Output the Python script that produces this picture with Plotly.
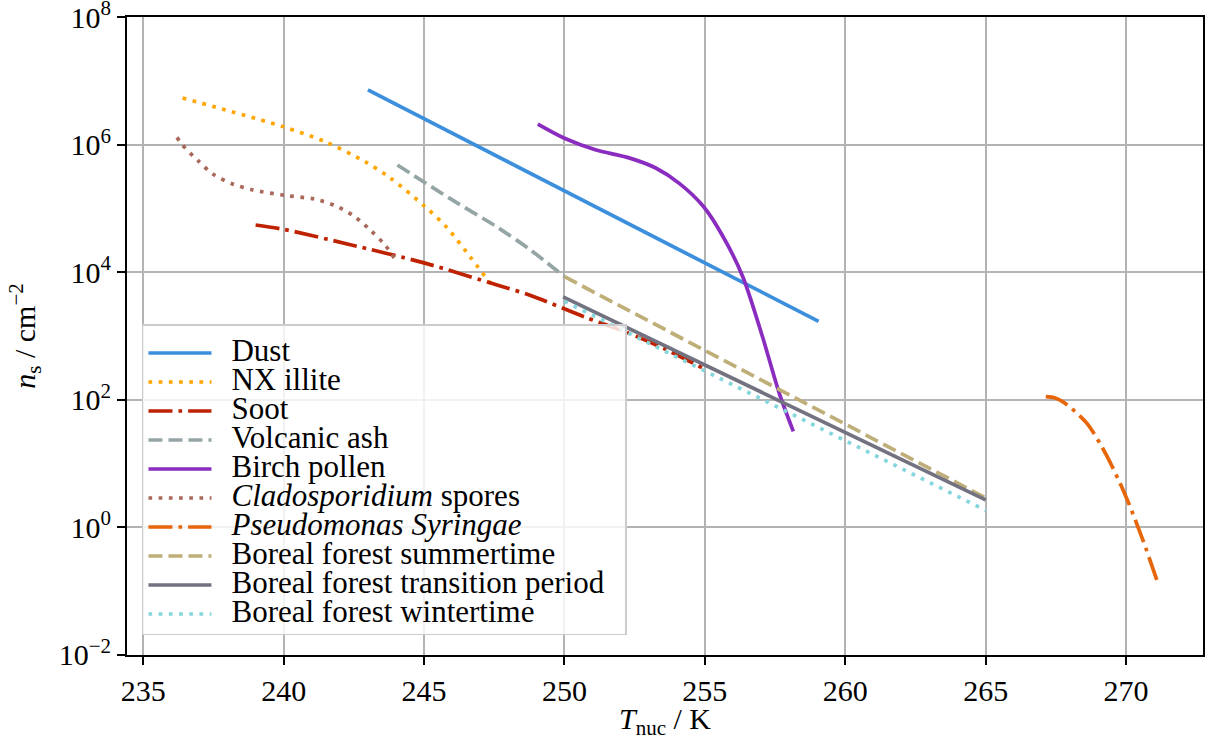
import plotly.graph_objects as go

FONT = "Liberation Serif"

# ---- data (T in K, n_s in cm^-2) ----
dust_T = [243.0, 259.05]
dust_n = [7.2e6, 1.7e3]

illite_T = [236.4, 240.0, 241.5, 242.9, 243.8, 245.0, 245.8, 246.5, 247.45]
illite_n = [5.4e6, 1.9e6, 1.1e6, 5.4e5, 3.0e5, 1.1e5, 5.1e4, 2.1e4, 5.9e3]

soot_T = [239.0, 240.0, 242.3, 245.0, 247.6, 248.75, 250.7, 252.3, 253.5, 254.95]
soot_n = [5.5e4, 4.7e4, 2.75e4, 1.4e4, 6.3e3, 4.4e3, 2.0e3, 1.1e3, 6.5e2, 3.1e2]

ash_T = [244.05, 245.9, 247.6, 248.75, 250.0]
ash_n = [4.8e5, 1.45e5, 5.1e4, 2.3e4, 8.5e3]

birch_T = [249.05, 250.0, 251.1, 252.3, 253.25, 254.1, 254.95, 255.65, 256.35, 257.05, 257.65, 258.15]
birch_n = [2.1e6, 1.26e6, 8.3e5, 6.2e5, 4.3e5, 2.45e5, 1.07e5, 3.6e4, 8.5e3, 9.8e2, 1.26e2, 3.2e1]

clado_T = [236.2, 236.4, 236.95, 237.5, 238.2, 238.9, 240.05, 241.1, 241.85, 242.5, 243.1, 243.6, 244.05]
clado_n = [1.3e6, 9.8e5, 5.6e5, 3.4e5, 2.4e5, 1.95e5, 1.6e5, 1.4e5, 1.1e5, 7.6e4, 4.5e4, 2.7e4, 1.4e4]

pseudo_T = [267.14, 267.45, 267.8, 268.6, 269.3, 270.0, 270.6, 271.1]
pseudo_n = [1.12e2, 1.08e2, 9.0e1, 4.3e1, 1.36e1, 3.0, 0.63, 0.148]

summer_T = [250.0, 265.0]
summer_n = [8.5e3, 2.9]

trans_T = [249.95, 265.0]
trans_n = [4.1e3, 2.7]

winter_T = [250.0, 265.0]
winter_n = [3.5e3, 1.85]

x_ticks = [235, 240, 245, 250, 255, 260, 265, 270]
y_tick_exp = [-2, 0, 2, 4, 6, 8]

# ---- styles ----
LW = 3.7
DOT = "3.7px,6.5px"
DASH = "14px,6px"
DASHDOT = "24px,6px,3.7px,6px"
TXT = 30
LEG_TXT = 31

series = [
    ("Dust", dust_T, dust_n, "#3b8fdc", "solid", "linear"),
    ("NX illite", illite_T, illite_n, "#ffa500", DOT, "spline"),
    ("Soot", soot_T, soot_n, "#bf2200", DASHDOT, "spline"),
    ("Volcanic ash", ash_T, ash_n, "#95a5a6", DASH, "spline"),
    ("Birch pollen", birch_T, birch_n, "#8a2cbf", "solid", "spline"),
    ("<i>Cladosporidium</i> spores", clado_T, clado_n, "#a8685a", DOT, "spline"),
    ("<i>Pseudomonas Syringae</i>", pseudo_T, pseudo_n, "#e8660a", DASHDOT, "spline"),
    ("Boreal forest summertime", summer_T, summer_n, "#bfae78", DASH, "linear"),
    ("Boreal forest transition period", trans_T, trans_n, "#727280", "solid", "linear"),
    ("Boreal forest wintertime", winter_T, winter_n, "#85d6dc", DOT, "linear"),
]

fig = go.Figure()
for name, xs, ys, col, dash, shape in series:
    fig.add_trace(go.Scatter(
        x=xs, y=ys, mode="lines",
        name="\u00a0\u00a0\u00a0<span style='font-size:%dpx'>%s\u00a0\u00a0</span>" % (LEG_TXT, name),
        line=dict(color=col, width=LW, dash=dash, shape=shape, smoothing=0.8),
    ))

axis_common = dict(
    showline=True, linecolor="black", linewidth=2, mirror=True,
    ticks="outside", ticklen=8, tickwidth=1.8, tickcolor="black",
    showgrid=True, gridcolor="#b3b3b3", gridwidth=1.6,
    zeroline=False, ticklabeloverflow="allow", automargin=False,
    tickfont=dict(family=FONT, size=TXT, color="black"),
)

fig.update_xaxes(
    range=[234.42, 272.74],
    tickvals=x_ticks, ticktext=[str(v) for v in x_ticks],
    title=dict(text="<i>T</i><sub>nuc</sub> / K", font=dict(family=FONT, size=TXT, color="black"), standoff=10),
    **axis_common,
)
fig.update_yaxes(
    type="log", range=[-2.001, 8.001],
    tickvals=[10.0 ** e for e in y_tick_exp],
    ticktext=["10<sup>" + (str(e) if e >= 0 else "\u2212" + str(-e)) + "</sup>" for e in y_tick_exp],
    title=dict(text="<i>n</i><sub>s</sub> / cm<sup>\u22122</sup>", font=dict(family=FONT, size=TXT, color="black"), standoff=14),
    **axis_common,
)

fig.update_layout(
    width=1205, height=740,
    margin=dict(l=127, r=2, t=17, b=85, autoexpand=False),
    paper_bgcolor="white", plot_bgcolor="white",
    font=dict(family=FONT, size=TXT, color="black"),
    showlegend=True,
    legend=dict(
        x=0.0139, y=0.031, xanchor="left", yanchor="bottom",
        bgcolor="rgba(255,255,255,0.82)", bordercolor="#cccccc", borderwidth=1.5,
        font=dict(family=FONT, size=20, color="black"),
        title=dict(text="\u00a0", font=dict(size=6)),
        itemwidth=63, tracegroupgap=0,
    ),
)

fig.write_html("out.html")
